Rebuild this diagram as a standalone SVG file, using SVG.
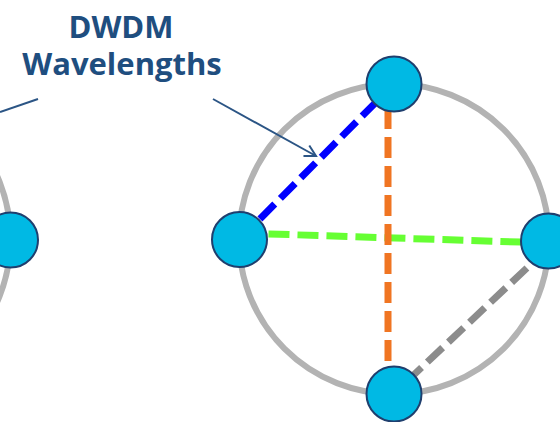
<svg xmlns="http://www.w3.org/2000/svg" width="560" height="422" viewBox="0 0 560 422">
  <defs>
    <style>
      .ring { fill: none; stroke: #b3b3b3; stroke-width: 6; }
      .node { fill: #00b9e4; stroke: #1f3f6e; stroke-width: 2; }
      .wave { fill: none; stroke-width: 7; stroke-dasharray: 21 8; }
      .callout { fill: none; stroke: #2b5585; stroke-width: 2; }
      .label { font-family: "Open Sans", "Liberation Sans", sans-serif; font-weight: bold; font-size: 31px; fill: #1f4e7f; text-anchor: middle; }
    </style>
    <marker id="openArrow" markerWidth="14" markerHeight="14" refX="12" refY="7" orient="auto" markerUnits="userSpaceOnUse">
      <path d="M1,1 L12,7 L1,13" fill="none" stroke="#2b5585" stroke-width="2"/>
    </marker>
  </defs>

  <!-- fibre rings -->
  <g id="rings">
    <circle class="ring" cx="-144.5" cy="239" r="155"/>
    <circle class="ring" cx="394" cy="239" r="155"/>
  </g>

  <!-- wavelength paths -->
  <g id="connectors">
    <line class="wave" stroke="#0000ff" x1="239.5" y1="239.5" x2="394" y2="84"/>
    <line class="wave" stroke="#66ff33" x1="239.5" y1="233" x2="548.5" y2="243"/>
    <line class="wave" stroke="#f07522" x1="388" y1="108" x2="388" y2="392"/>
    <line class="wave" stroke="#8c8c8c" x1="548" y1="248" x2="402" y2="386"/>
    <line class="callout" x1="0" y1="112" x2="38" y2="99"/>
    <line class="callout" x1="213" y1="99" x2="316" y2="156" marker-end="url(#openArrow)"/>
  </g>

  <g id="label-dwdm">
    <text class="label" x="121" y="38">DWDM</text>
    <text class="label" x="122" y="75">Wavelengths</text>
  </g>

  <!-- optical nodes -->
  <g id="node-left-ring"><circle class="node" cx="10.5" cy="240" r="27.5"/></g>
  <g id="node-top"><circle class="node" cx="394" cy="84" r="27.5"/></g>
  <g id="node-left"><circle class="node" cx="239.5" cy="239.5" r="27.5"/></g>
  <g id="node-right"><circle class="node" cx="548.5" cy="241" r="27.5"/></g>
  <g id="node-bottom"><circle class="node" cx="394" cy="394" r="27.5"/></g>
</svg>
